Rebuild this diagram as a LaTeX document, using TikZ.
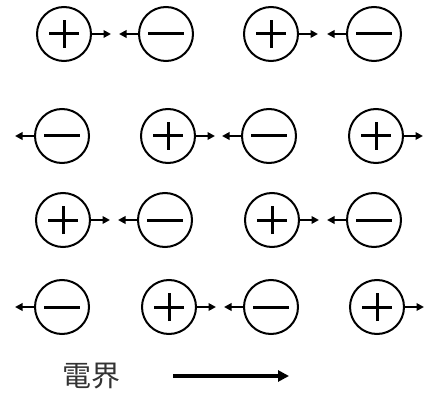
\documentclass[tikz,border=0pt]{standalone}
\usepackage{fontspec}
\newfontfamily\cjk{Noto Sans CJK JP}
\usetikzlibrary{arrows.meta}
\tikzset{
  charge/.style={circle, draw, line width=2pt, minimum size=54pt, inner sep=0pt},
  signline/.style={line width=3pt},
  force/.style={line width=1.8pt, -{Triangle[length=7.5pt,width=7.5pt]}},
  field/.style={line width=3.2pt, -{Triangle[length=11pt,width=11pt]}}
}
\begin{document}
\begin{tikzpicture}[x=1pt,y=-1pt]
\useasboundingbox (0,0) rectangle (426,393);
% row 1
\node[charge] (a1) at (64,34) {};
\node[charge] (a2) at (166,34) {};
\node[charge] (a3) at (271,34) {};
\node[charge] (a4) at (374,34) {};
% row 2
\node[charge] (b1) at (62,136) {};
\node[charge] (b2) at (168,136) {};
\node[charge] (b3) at (269,136) {};
\node[charge] (b4) at (376,136) {};
% row 3
\node[charge] (c1) at (63,220) {};
\node[charge] (c2) at (165,220) {};
\node[charge] (c3) at (272,220) {};
\node[charge] (c4) at (374,220) {};
% row 4
\node[charge] (d1) at (62,307) {};
\node[charge] (d2) at (169,307) {};
\node[charge] (d3) at (271,307) {};
\node[charge] (d4) at (377,307) {};
% positive charges: plus sign, pushed right by the field
\foreach \n in {a1,a3,b2,b4,c1,c3,d2,d4}{
  \draw[signline] ([xshift=-15pt]\n.center) -- ([xshift=15pt]\n.center);
  \draw[signline] ([yshift=-14pt]\n.center) -- ([yshift=14pt]\n.center);
  \coordinate (\n-tip) at ([xshift=19pt]\n.east);
  \draw[force] (\n.east) -- (\n-tip);
}
% negative charges: minus sign, pushed left
\foreach \n in {a2,a4,b1,b3,c2,c4,d1,d3}{
  \draw[signline] ([xshift=-18pt]\n.center) -- ([xshift=18pt]\n.center);
  \coordinate (\n-tip) at ([xshift=-19pt]\n.west);
  \draw[force] (\n.west) -- (\n-tip);
}
% field direction
\node[font=\cjk\fontsize{29pt}{30pt}\selectfont, text=black!80, inner sep=0pt] (label) at (91,376) {電界};
\coordinate (f0) at (173,376);
\coordinate (f1) at (289,376);
\draw[field] (f0) -- (f1);
\end{tikzpicture}
\end{document}
